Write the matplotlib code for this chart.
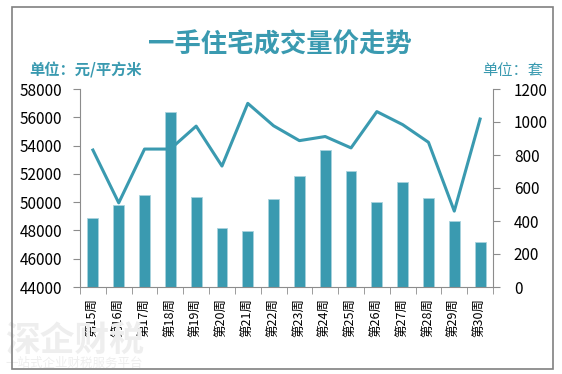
import matplotlib
matplotlib.use("Agg")
import matplotlib.pyplot as plt
from matplotlib.patches import Rectangle

plt.rcParams['font.family'] = ['Noto Sans CJK SC', 'DejaVu Sans']

weeks = ["第15周", "第16周", "第17周", "第18周", "第19周", "第20周", "第21周", "第22周",
         "第23周", "第24周", "第25周", "第26周", "第27周", "第28周", "第29周", "第30周"]
price = [48880, 49830, 50470, 56370, 50370, 48200, 47990, 50190,
         51880, 53690, 52190, 50000, 51410, 50280, 48640, 47200]
volume = [830, 510, 836, 836, 975, 733, 1113, 977,
          887, 912, 843, 1063, 984, 877, 460, 1018]
left_ticks = [44000, 46000, 48000, 50000, 52000, 54000, 56000, 58000]
right_ticks = [0, 200, 400, 600, 800, 1000, 1200]

teal = "#3A9AB0"
gray = "#8C8C8C"

fig = plt.figure(figsize=(5.62, 3.74), dpi=100)
fig.patch.set_facecolor("white")

# watermark (behind everything)
fig.text(5/562, 1-340/374, "深企财税", ha='left', va='center',
         fontsize=25, fontweight='bold', color="#EEEEEE", zorder=0)
fig.text(5/562, 1-363/374, "一站式企业财税服务平台", ha='left', va='center',
         fontsize=9, color="#EEEEEE", zorder=0)

fig.patches.append(Rectangle((12/562, 1-369/374), (553-12)/562, (369-7)/374,
                             transform=fig.transFigure, fill=False,
                             edgecolor="#808080", linewidth=1.2))

ax = fig.add_axes([80/562, 1-287/374, (493-80)/562, (287-89)/374])
ax.patch.set_alpha(0)
x = list(range(len(weeks)))
ax.bar(x, price, width=0.42, color=teal, edgecolor="#A9D3DD", linewidth=0.6, zorder=2)
ax.set_ylim(44000, 58000)
ax.set_yticks(left_ticks)
ax.set_xlim(-0.5, len(weeks) - 0.5)
ax.set_xticks(x)
ax.set_xticklabels(weeks, rotation=90, fontsize=9)
ax.set_xticks([i - 0.5 for i in range(len(weeks) + 1)], minor=True)
ax.tick_params(axis='x', which='major', length=0, pad=8)
ax.tick_params(axis='x', which='minor', length=5, color=gray, direction='out')
ax.tick_params(axis='y', length=5, color=gray, labelsize=11, pad=8)
for s in ['top', 'right']:
    ax.spines[s].set_visible(False)
for s in ['left', 'bottom']:
    ax.spines[s].set_color(gray)

ax2 = ax.twinx()
ax2.plot(x, volume, color=teal, linewidth=2.2, zorder=3)
ax2.set_ylim(0, 1200)
ax2.set_yticks(right_ticks)
ax2.tick_params(axis='y', length=5, color=gray, labelsize=11, pad=10)
for s in ['top', 'left', 'bottom']:
    ax2.spines[s].set_visible(False)
ax2.spines['right'].set_color(gray)

fig.text(280/562, 1-45/374, "一手住宅成交量价走势", ha='center', va='center',
         fontsize=19, fontweight='bold', color=teal)
fig.text(29/562, 1-70/374, "单位：元/平方米", ha='left', va='center',
         fontsize=11, fontweight='bold', color=teal)
fig.text(543/562, 1-70/374, "单位：套", ha='right', va='center',
         fontsize=11, color=teal)

fig.savefig("out.png", dpi=100, facecolor="white")
